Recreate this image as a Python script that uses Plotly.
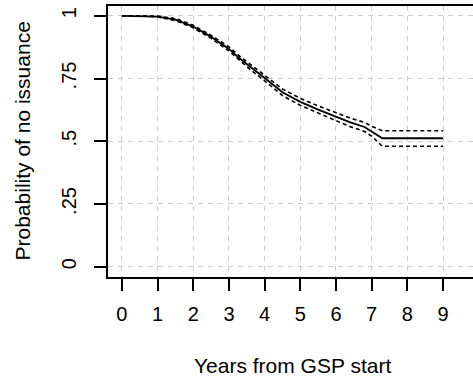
import plotly.graph_objects as go

years = [0, 0.5, 1.0, 1.5, 2.0, 2.5, 3.0, 3.3, 3.6, 4.0, 4.5, 5.0, 5.5, 6.0, 6.4, 6.8, 7.0, 7.3, 9.0]
surv  = [1.0, 1.0, 0.997, 0.985, 0.957, 0.916, 0.868, 0.830, 0.795, 0.752, 0.695, 0.657, 0.626, 0.598, 0.575, 0.557, 0.540, 0.512, 0.512]
upper = [1.0, 1.0, 0.999, 0.989, 0.962, 0.922, 0.876, 0.839, 0.805, 0.763, 0.708, 0.671, 0.641, 0.614, 0.592, 0.575, 0.560, 0.542, 0.542]
lower = [1.0, 1.0, 0.995, 0.981, 0.952, 0.910, 0.860, 0.821, 0.785, 0.741, 0.682, 0.643, 0.611, 0.582, 0.558, 0.539, 0.520, 0.480, 0.480]

xticks = [0, 1, 2, 3, 4, 5, 6, 7, 8, 9]
yticks = [0, 0.25, 0.5, 0.75, 1]
ytick_labels = ["0", ".25", ".5", ".75", "1"]

FONT = "Liberation Sans, Arial, sans-serif"

fig = go.Figure()
for ci in (upper, lower):
    fig.add_trace(go.Scatter(x=years, y=ci, mode="lines",
                             line=dict(color="black", width=1.6, dash="4px,3px"),
                             showlegend=False, hoverinfo="skip"))
fig.add_trace(go.Scatter(x=years, y=surv, mode="lines",
                         line=dict(color="black", width=1.8),
                         showlegend=False))

fig.update_layout(
    width=473, height=379,
    margin=dict(l=108, r=0, t=6, b=102),
    paper_bgcolor="white", plot_bgcolor="white",
    font=dict(family=FONT, size=20, color="black"),
    xaxis=dict(range=[-0.39, 9.84], tickvals=xticks, ticktext=[str(v) for v in xticks],
               showgrid=True, gridcolor="#cccccc", griddash="5px,5px", gridwidth=1,
               zeroline=False, showline=True, linecolor="black", linewidth=2, mirror=True,
               ticks="outside", ticklen=12, tickwidth=1.5, tickcolor="black",
               ticklabelstandoff=6, fixedrange=True),
    yaxis=dict(range=[-0.041, 1.039], tickvals=yticks, ticktext=ytick_labels,
               tickangle=-90,
               showgrid=True, gridcolor="#cccccc", griddash="5px,5px", gridwidth=1,
               zeroline=False, showline=True, linecolor="black", linewidth=2, mirror=False,
               ticks="outside", ticklen=12, tickwidth=1.5, tickcolor="black",
               ticklabelstandoff=10, fixedrange=True),
    annotations=[
        dict(text="Years from GSP start", xref="paper", yref="paper",
             x=(292 - 108) / 365, y=-(365 - 277) / 271, xanchor="center", yanchor="middle",
             showarrow=False, font=dict(size=21, family=FONT)),
        dict(text="Probability of no issuance", xref="paper", yref="paper",
             x=-(108 - 22) / 365, y=0.5, xanchor="center", yanchor="middle", textangle=-90,
             showarrow=False, font=dict(size=21, family=FONT)),
    ],
)

fig.write_html("out.html")
